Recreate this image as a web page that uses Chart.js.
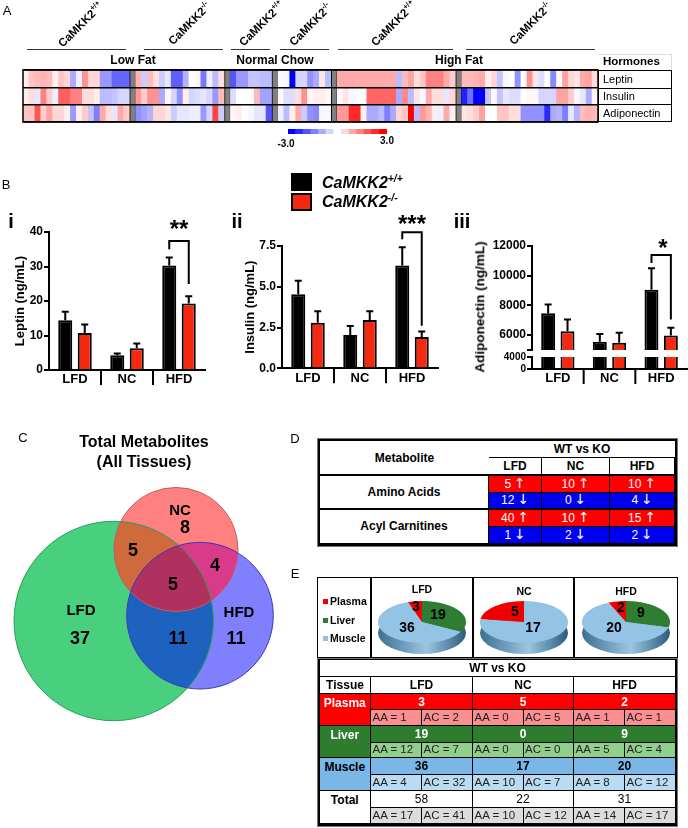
<!DOCTYPE html>
<html><head><meta charset="utf-8">
<style>
html,body{margin:0;padding:0;background:#fff;width:688px;height:828px;overflow:hidden;font-family:"Liberation Sans",Arial,sans-serif;color:#000}
#page{position:relative;width:688px;height:828px;overflow:hidden}
canvas{position:absolute;left:0;top:0}
.t{position:absolute;white-space:nowrap;transform:translate(-50%,-50%);line-height:1}
.c{position:absolute;box-sizing:border-box;display:flex;align-items:center;justify-content:center;white-space:nowrap;line-height:1}
.ar{font-family:"DejaVu Sans",sans-serif;font-size:1.15em;margin-left:3px}
sup{font-size:.65em;line-height:0}
</style>
<script src="https://cdn.jsdelivr.net/npm/chart.js@4"></script>
</head><body><div id="page"></div>
<script>
/* ---------- DATA ---------- */
const leptinZ = [.2,.7,.8,.9,.8,.2,.7,.5,-1,-.2,1.3,.5,.5,-1.2,-1.2,-1.8,-1.8,-1.8, null,
 .9,-.6,.8,.4,-.6,-.3,-1.9,-1.9,-.9,0,-.1,-1.6,-.2,-.8,.4, null,
 -2,-1.2,-1.2,-.7,-.7,-.8,-.8, null,
 -.05,-.1,-3,-.5,-.5,-1.3,-1,.3,-.8, null,
 1,1,1,1,1,1,1,1,1,1,-.8,.8,1.1,.4,.7,1.5,1.5,1.5,1,.6, null,
 .8,.8,.9,1,.2,.5,-.7,-.1,0,-1.3,0,1.3,.3,-.4,0,-1.4,.1,1.1,.5,.3,1,1.1,.4];
const insulinZ = [.2,.4,-.3,1.5,.6,-.2,1.9,1.9,1.5,1.5,.4,.4,.2,-.8,-.8,-.7,-.5,-.5, null,
 1.2,.6,1.3,1.3,-1,.1,-.5,-1.3,.2,-.5,-.4,-.3,-.5,-1.2,.8, null,
 -.4,0,0,0,.8,-1.1,-1.1, null,
 .1,-.4,-.4,.4,1.3,.1,.2,.2,.1, null,
 .1,.3,-.1,0,0,1.8,1.8,1.8,1.8,1.8,-1,1.4,-.8,.3,-.1,1,.4,.4,-.3,.5, null,
 -2.6,-1.7,-3,-3,-.7,.1,-.7,-.3,-.4,-.4,0,.1,-.1,-.5,-.5,-.5,1.1,1.1,.6,-.1,-.3,-1,.1];
const adipoZ = [.7,.7,2,.6,1.1,.5,.5,.2,-1.2,.2,.6,-.7,-1.5,1,.4,-.3,1,.6, null,
 -1.3,-1.1,-.9,.5,.5,.3,-.6,-.3,-.3,-.2,-.2,-1.2,-.5,2.2,-.6, null,
 .1,.2,0,-.1,-.3,-.3,-2, null,
 -.2,-.8,.2,1,-.6,-1.3,-1.4,-.1,-.1, null,
 1.2,1.2,2.5,2.5,.2,-1,-1,-.8,-1.5,-1,.5,.7,3,-.8,1.2,.9,.2,-.2,1,.2, null,
 .3,.4,.6,1.1,0,0,.7,.7,.4,.4,-1.3,-1.3,-1.3,-1.3,-2.5,-1,-.9,-1.5,-.3,-.9,.8,.9,.8];
const scaleSteps = [-3,-2.5,-2,-1.5,-1,-.5,0,.5,1,1.5,2,2.5,3];

const diets = ["LFD","NC","HFD"];
const leptinWT = [14.45,4.3,30.3], leptinKO = [10.7,6.3,19.3];
const leptinWTtop = [16.85,4.8,32.6], leptinKOtop = [13.2,7.7,21.4];
const insulinWT = [4.54,2.04,6.3], insulinKO = [2.8,2.96,1.92];
const insulinWTtop = [5.37,2.6,7.42], insulinKOtop = [3.5,3.5,2.25];
const adipoWT = [7466,5550,9060], adipoKO = [6270,5480,5980];
const adipoWTtop = [8070,6070,10510], adipoKOtop = [7060,6160,6490];
const leptinBracket = [37.4,35,24.9], insulinBracket = [8.34,7.91,2.61], adipoBracket = [11390,10850,7050];

const tableDup = [[5,10,10],[40,10,15]], tableDdown = [[12,0,4],[1,2,2]];
const tissues = ["Plasma","Liver","Muscle","Total"];
const tissueTotals = [[3,5,2],[19,0,9],[36,17,20],[58,22,31]];
const tissueAA = [[1,0,1],[12,0,5],[4,10,8],[17,10,14]];
const tissueAC = [[2,5,1],[7,0,4],[32,7,12],[41,12,17]];
const pieLiver = [19,0,9], pieMuscle = [36,17,20], piePlasma = [3,5,2];

const vennX = [113.7,176,200], vennY = [621,549.5,615.7], vennR = [99.7,62,73.3];

/* ---------- HELPERS ---------- */
const page = document.getElementById('page');
const W=688,H=828, FF='"Liberation Sans",Arial,sans-serif';
Chart.defaults.font.family = FF;
Chart.defaults.animation = false;
function text(x,y,s,o={}){const d=document.createElement('div');d.className='t';d.style.left=x+'px';d.style.top=y+'px';
 d.style.fontSize=(o.size||12)+'px';if(o.bold)d.style.fontWeight='bold';if(o.italic)d.style.fontStyle='italic';
 if(o.color)d.style.color=o.color;if(o.left)d.style.transform='translate(0,-50%)';
 if(o.rot!=null)d.style.transform='translate(-50%,-50%) rotate('+o.rot+'deg)';
 d.innerHTML=s;page.appendChild(d);return d;}
function cell(x0,y0,x1,y1,s,o={}){const d=document.createElement('div');d.className='c';
 Object.assign(d.style,{left:x0+'px',top:y0+'px',width:(x1-x0)+'px',height:(y1-y0)+'px',
  background:o.bg||'#fff',color:o.color||'#000',fontSize:(o.size||11)+'px',fontWeight:o.bold?'bold':'normal',
  border:o.border===undefined?'1px solid #000':o.border});
 if(o.alignTop){d.style.alignItems='flex-start';d.style.paddingTop=o.alignTop+'px';}
 if(o.alignLeft){d.style.justifyContent='flex-start';d.style.paddingLeft=o.alignLeft+'px';}
 d.innerHTML=s==null?'':s;page.appendChild(d);return d;}
function box(x0,y0,x1,y1,css){const d=document.createElement('div');d.style.position='absolute';
 Object.assign(d.style,{left:x0+'px',top:y0+'px',width:(x1-x0)+'px',height:(y1-y0)+'px',boxSizing:'border-box'},css);page.appendChild(d);return d;}
function newCanvas(){const c=document.createElement('canvas');c.width=W;c.height=H;c.style.width=W+'px';c.style.height=H+'px';page.appendChild(c);return c;}
function pad(l,t,r,b){return {left:l,top:t,right:W-r,bottom:H-b};}
function zColor(z){if(z==null)return '#808080';const a=Math.min(1,Math.abs(z)/3),v=Math.round(255*(1-a));
 return z<0?`rgb(${v},${v},255)`:`rgb(255,${v},${v})`;}

/* ---------- A: HEATMAP ---------- */
const columns = leptinZ.map((_,i)=>i);
const rowUnit = columns.map(()=>1);
function heatSet(label,z){return {label,data:rowUnit,backgroundColor:z.map(zColor),
  borderColor:'#000',borderWidth:z.map(v=>v==null?{left:1,right:1,top:0,bottom:0}:0),borderSkipped:false,
  barPercentage:1,categoryPercentage:1};}
new Chart(newCanvas(),{type:'bar',
 data:{labels:columns,datasets:[heatSet('Adiponectin',adipoZ),heatSet('Insulin',insulinZ),heatSet('Leptin',leptinZ)]},
 options:{responsive:false,layout:{padding:pad(23,70,598,122)},plugins:{legend:{display:false},tooltip:{enabled:false}},
  scales:{x:{display:false,stacked:true},
   y:{stacked:true,min:0,max:3,position:'left',afterFit(s){s.width=0},
      ticks:{display:false,stepSize:1},border:{display:false},grid:{z:1,color:'#000',lineWidth:1.5,drawTicks:false}}}},
 plugins:[{id:'edges',afterDraw(c){const a=c.chartArea,x=c.ctx;x.save();x.strokeStyle='#000';x.lineWidth=1.5;
   x.strokeRect(a.left,a.top,a.right-a.left,a.bottom-a.top);x.restore();}}]});

new Chart(newCanvas(),{type:'bar',
 data:{labels:scaleSteps,datasets:[{data:scaleSteps.map(()=>1),backgroundColor:scaleSteps.map(zColor),barPercentage:1,categoryPercentage:1}]},
 options:{responsive:false,layout:{padding:pad(288,129,387,134)},plugins:{legend:{display:false},tooltip:{enabled:false}},
  scales:{x:{display:false},y:{display:false,min:0,max:1}}}});

[[27,126],[144,223],[231,270],[280,329],[338,453],[466,595]].forEach(s=>box(s[0],49,s[1],50,{background:'#333'}));
[[81,25,'+/+'],[190,24,'-/-'],[262,24,'+/+'],[311,25,'-/-'],[394,24,'+/+'],[531,24,'-/-']].forEach(g=>
  text(g[0],g[1],'CaMKK2<sup>'+g[2]+'</sup>',{size:11.5,bold:true,rot:-45}));
text(133,60,'Low Fat',{size:12,bold:true});
text(275,60,'Normal Chow',{size:12,bold:true});
text(459,60,'High Fat',{size:12,bold:true});
box(598,54,672,70,{borderTop:'1px solid #ddd',borderRight:'1px solid #ddd'});
text(603,62,'Hormones',{size:11.5,bold:true,left:true});
box(598,70,672,122,{border:'1.5px solid #000'});
box(598,88,672,89,{background:'#000'});box(598,104,672,105,{background:'#000'});
text(603,79,'Leptin',{size:11,left:true});
text(603,96,'Insulin',{size:11,left:true});
text(603,113,'Adiponectin',{size:11,left:true});
text(286,144,'-3.0',{size:10,bold:true});
text(387,141,'3.0',{size:10,bold:true});

/* ---------- B: BARS ---------- */
const RED='#f4290f';
function errorPlugin(bracket){return {id:'err',afterDatasetsDraw(c){const x=c.ctx,ys=c.scales.y;x.save();x.strokeStyle='#000';x.lineWidth=2;
   c.data.datasets.forEach((d,i)=>{const m=c.getDatasetMeta(i);d.tops.forEach((v,j)=>{const px=m.data[j].x,y0=ys.getPixelForValue(d.data[j]),y1=ys.getPixelForValue(v);
     x.beginPath();x.moveTo(px,y0);x.lineTo(px,y1);x.moveTo(px-3.5,y1);x.lineTo(px+3.5,y1);x.stroke();});});
   if(bracket){const l=c.getDatasetMeta(0).data[2].x,r=c.getDatasetMeta(1).data[2].x;x.beginPath();
     x.moveTo(l,ys.getPixelForValue(bracket[1]));x.lineTo(l,ys.getPixelForValue(bracket[0]));
     x.lineTo(r,ys.getPixelForValue(bracket[0]));x.lineTo(r,ys.getPixelForValue(bracket[2]));x.stroke();}
   x.restore();}};}
const separators={id:'sep',afterDraw(c){const s=c.scales.x,x=c.ctx;x.save();x.strokeStyle='#000';x.lineWidth=2;
   [0,1].forEach(i=>{const p=(s.getPixelForValue(i)+s.getPixelForValue(i+1))/2;x.beginPath();x.moveTo(p,s.top);x.lineTo(p,s.top+15);x.stroke();});x.restore();}};
function barSets(wt,ko,wtTop,koTop){const common={barPercentage:.72,categoryPercentage:.75,borderColor:'#000',borderWidth:2};
 return [{label:'CaMKK2+/+',data:wt,tops:wtTop,backgroundColor:'#000',...common},{label:'CaMKK2-/-',data:ko,tops:koTop,backgroundColor:RED,...common}];}
function yAxis(cfg){return {min:cfg.min,max:cfg.max,ticks:Object.assign({color:'#000',font:{size:cfg.fs||12,weight:'bold'},padding:1,stepSize:cfg.step},cfg.ticks||{}),
  afterFit(s){s.width=cfg.width},afterBuildTicks:cfg.list?(s=>{s.ticks=cfg.list.map(v=>({value:v}))}):undefined,
  title:cfg.title?{display:true,text:cfg.title,color:'#000',font:{size:13,weight:'bold'},padding:{top:0,bottom:0}}:{display:false},
  border:{color:'#000',width:2},grid:{drawOnChartArea:false,color:'#000',lineWidth:2,tickLength:5}};}
function xAxis(){return {ticks:{color:'#000',font:{size:13,weight:'bold'},padding:2,maxRotation:0},afterFit(s){s.height=20},
  border:{color:'#000',width:2},grid:{display:false,drawTicks:false}};}
function barChart(L,T,R,B,sets,width,axis,bracket,opts={}){
 const showX=opts.showX!==false;
 const plugins=[]; if(!opts.noErr)plugins.push(errorPlugin(bracket)); if(showX)plugins.push(separators);
 return new Chart(newCanvas(),{type:'bar',data:{labels:diets,datasets:sets},
  options:{responsive:false,layout:{padding:pad(L-width,T,R,showX?B+20:B)},plugins:{legend:{display:false},tooltip:{enabled:false}},
    scales:{x:showX?xAxis():{display:false},y:axis}},plugins});}

barChart(49,232,205,370,barSets(leptinWT,leptinKO,leptinWTtop,leptinKOtop),36,
  yAxis({min:0,max:40,step:10,width:36,title:'Leptin (ng/mL)'}),leptinBracket);
barChart(282,246,438,368.3,barSets(insulinWT,insulinKO,insulinWTtop,insulinKOtop),39,
  yAxis({min:0,max:7.5,step:2.5,width:39,title:'Insulin (ng/mL)',ticks:{callback:v=>v.toFixed(1)}}),insulinBracket);
/* panel iii: broken axis drawn as an upper and a lower chart */
barChart(532,246,687,350,barSets(adipoWT,adipoKO,adipoWTtop,adipoKOtop),50,
  yAxis({min:5000,max:12000,width:50,list:[5000,6000,8000,10000,12000],ticks:{callback:v=>v===5000?'':String(v)}}),adipoBracket,{showX:false});
barChart(532,357,687,369,barSets(adipoWT,adipoKO,adipoWTtop,adipoKOtop),50,
  yAxis({min:0,max:4000,width:50,fs:10,list:[0,4000],ticks:{autoSkip:false,callback:v=>String(v)}}),null,{noErr:true});
text(480,307,'Adiponectin (ng/mL)',{size:13.5,bold:true,rot:-90});

box(291,173,312,191,{background:'#000'});
box(291,192.5,312,210.5,{background:RED,border:'2.5px solid #000'});
text(322,183,'CaMKK2<sup>+/+</sup>',{size:16,bold:true,italic:true,left:true});
text(322,202,'CaMKK2<sup>-/-</sup>',{size:16,bold:true,italic:true,left:true});
text(11,221,'i',{size:20,bold:true});
text(237,221,'ii',{size:20,bold:true});
text(462,221,'iii',{size:20,bold:true});
text(179,229,'**',{size:24,bold:true});
text(412,224,'***',{size:24,bold:true});
text(663,248,'*',{size:24,bold:true});
text(7,10,'A',{size:13});text(6,184,'B',{size:13});text(23,437,'C',{size:13});text(295,438,'D',{size:13});text(295,573,'E',{size:13});

/* ---------- C: VENN ---------- */
const vennFill=['#48d07e','#ff8080','#8080ff'],vennEdge=['#2a9e58','#c85a5a','#3a3ab8'];
const regionFill=[[[0,1],'#cf6a3c'],[[0,2],'#1d62bf'],[[1,2],'#da3a8a'],[[0,1,2],'#b03060']];
new Chart(newCanvas(),{type:'bubble',
 data:{datasets:vennX.map((vx,i)=>({data:[{x:vx,y:vennY[i],r:vennR[i]}],backgroundColor:vennFill[i],borderWidth:0,clip:false}))},
 options:{responsive:false,layout:{autoPadding:false},plugins:{legend:{display:false},tooltip:{enabled:false}},
  scales:{x:{display:false,min:0,max:W},y:{display:false,min:0,max:H,reverse:true}}},
 plugins:[{id:'overlap',afterDatasetsDraw(c){const x=c.ctx,el=[0,1,2].map(i=>c.getDatasetMeta(i).data[0]);
   const path=i=>{x.beginPath();x.arc(el[i].x,el[i].y,vennR[i],0,Math.PI*2);};
   regionFill.forEach(([ids,col])=>{x.save();ids.forEach(i=>{path(i);x.clip();});x.fillStyle=col;x.fillRect(0,0,W,H);x.restore();});
   el.forEach((e,i)=>{path(i);x.strokeStyle=vennEdge[i];x.lineWidth=1;x.stroke();});}}]});
text(144,442,'Total Metabolites',{size:16,bold:true});
text(144,462,'(All Tissues)',{size:16,bold:true});
[[180,509,'NC'],[185,527,'8'],[133,550,'5'],[215,565,'4'],[173,584,'5'],[81,609,'LFD'],[80,638,'37'],[178,638,'11'],[239,611,'HFD'],[236,638,'11']]
 .forEach(v=>text(v[0],v[1],v[2],{size:v[2].length>2||v[2]==='NC'?15:18,bold:true}));

/* ---------- D: TABLE ---------- */
box(317,438,678,547,{background:'#000',border:'1px solid #777'});
const dCols=[[489,542],[542,610],[610,675]];
cell(320,441,489,474,'Metabolite',{size:12,bold:true,border:'none'});
cell(489,441,675,457,'WT vs KO',{size:12,bold:true,border:'none'});
box(489,456.5,675,458,{background:'#000'});
dCols.forEach((c,i)=>cell(c[0],458,c[1]-1,474,diets[i],{size:12,bold:true,border:'none'}));
box(320,474,675,475.5,{background:'#000'});
[['Amino Acids',475.5,508],['Acyl Carnitines',509.5,543]].forEach((r,k)=>{
  cell(320,r[1],488,r[2],r[0],{size:12,bold:true,border:'none'});
  const mid=(r[1]+r[2])/2;
  dCols.forEach((c,i)=>{
   cell(c[0],r[1],c[1]-1,mid,tableDup[k][i]+'<span class="ar">↑</span>',{size:12,bg:'#ff0000',color:'#fff',border:'none'});
   cell(c[0],mid+1,c[1]-1,r[2],tableDdown[k][i]+'<span class="ar">↓</span>',{size:12,bg:'#0000f0',color:'#fff',border:'none'});
  });
});

/* ---------- E: PIES ---------- */
box(317,577,678,658,{border:'1.5px solid #000'});
[370,472,573].forEach(x=>box(x,577,x+1.5,658,{background:'#000'}));
[[325,601,'#f00000','Plasma'],[325,620,'#2e7d32','Liver'],[325,638,'#8fc2e6','Muscle']].forEach(l=>{
  box(l[0]-2.5,l[1]-2.5,l[0]+2.5,l[1]+2.5,{background:l[2]});text(330,l[1],l[3],{size:10.5,bold:true,left:true});});
const pieCx=[422,524,626];
diets.forEach((d,i)=>{
  box(pieCx[i]-44,612,pieCx[i]+44,654,{borderRadius:'50%',background:'linear-gradient(to right,#3f6f8f,#6f9fbd 30%,#9cc6de 55%,#5b8cab 80%,#2f5a78)'});
  const wrap=document.createElement('div');
  Object.assign(wrap.style,{position:'absolute',left:(pieCx[i]-44)+'px',top:'601px',width:'88px',height:'88px',transform:'scaleY(0.477)',transformOrigin:'top left'});
  const c=document.createElement('canvas');c.width=88;c.height=88;wrap.appendChild(c);page.appendChild(wrap);
  new Chart(c,{type:'pie',data:{labels:['Liver','Muscle','Plasma'],datasets:[{data:[pieLiver[i],pieMuscle[i],piePlasma[i]],backgroundColor:['#2e7d32','#93c4e6','#f00000'],borderWidth:0}]},
    options:{responsive:false,plugins:{legend:{display:false},tooltip:{enabled:false}}}});
  text(pieCx[i],i===0?589:591,d,{size:10.5,bold:true});
});
[[416,606,'3'],[438,614,'19'],[407,627,'36'],[515,611,'5'],[533,627,'17'],[621,607,'2'],[641,612,'9'],[614,627,'20']]
  .forEach(v=>text(v[0],v[1],v[2],{size:14,bold:true}));

/* ---------- E: TABLE ---------- */
box(317,658,678,827,{background:'#000',border:'1px solid #777'});
const eCols=[[370,472],[472,573],[573,675]];
const E_BLOCK=[['#ff0000','#f98f8f','#fff','#fff'],['#2e7d2e','#90d08c','#fff','#fff'],['#7ab6e6','#b9dcf4','#000','#000'],['#fff','#dcdcdc','#000','#000']];
const ROW0=[693,725,757,790], ROWM=[709,742,774,807], ROW1=[725,757,790,823];
cell(320,660,675,676,'WT vs KO',{size:12,bold:true,border:'none'});
cell(320,677,370,693,'Tissue',{size:12,bold:true,border:'none'});
eCols.forEach((c,i)=>cell(c[0]+1,677,c[1],693,diets[i],{size:12,bold:true,border:'none'}));
tissues.forEach((t,r)=>{
  const st=E_BLOCK[r];
  cell(320,ROW0[r]+1,369.5,ROW1[r],t,{size:12,bold:true,bg:st[0],color:st[2],border:'none',alignTop:3});
  eCols.forEach((c,i)=>{
    cell(c[0]+1,ROW0[r]+1,c[1],ROWM[r],tissueTotals[r][i],{size:12,bold:r!==3,bg:st[0],color:st[3],border:'none'});
    const m=(c[0]+c[1])/2;
    cell(c[0]+1,ROWM[r]+1,m,ROW1[r],'AA = '+tissueAA[r][i],{size:11.5,bg:st[1],color:'#222',border:'none',alignLeft:1.5});
    cell(m+1,ROWM[r]+1,c[1],ROW1[r],'AC = '+tissueAC[r][i],{size:11.5,bg:st[1],color:'#222',border:'none',alignLeft:1.5});
  });
});
</script></body></html>
